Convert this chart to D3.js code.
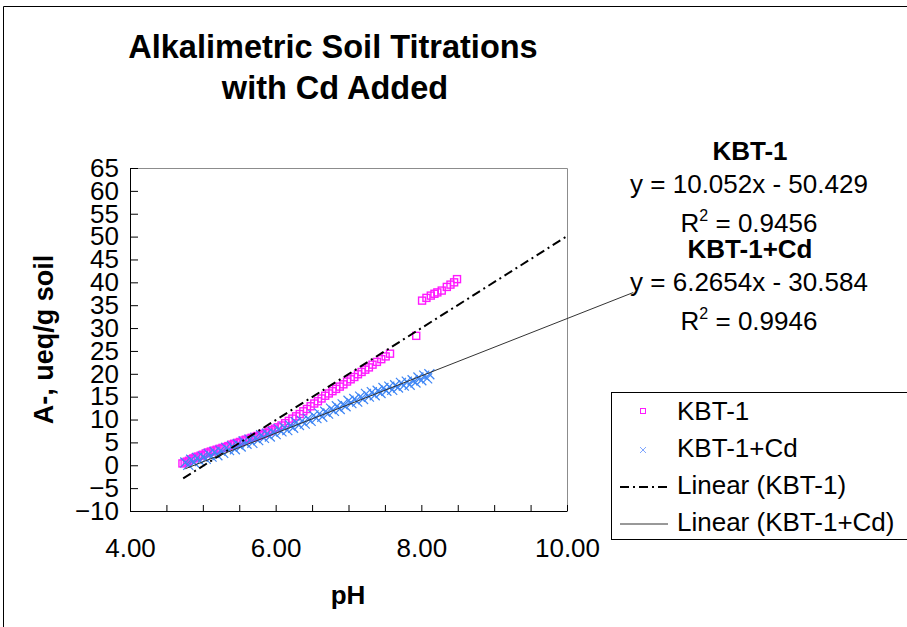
<!DOCTYPE html>
<html>
<head>
<meta charset="utf-8">
<script src="https://cdn.jsdelivr.net/npm/d3@7"></script>
<style>
  html, body { margin: 0; padding: 0; background: #fff; }
  svg { display: block; font-family: "Liberation Sans", Arial, sans-serif; }
</style>
</head>
<body>
<svg id="chart" width="907" height="627"></svg>
<script>
// Titration data: pH vs A- (ueq/g soil)
const phKbt = [4.72, 4.75, 4.78, 4.81, 4.84, 4.87, 4.90, 4.93, 4.97, 5.00, 5.04, 5.07, 5.11, 5.15, 5.19, 5.23,
  5.27, 5.31, 5.35, 5.39, 5.43, 5.47, 5.51, 5.55, 5.59, 5.63, 5.67, 5.71, 5.75, 5.79, 5.83, 5.87, 5.91, 5.95,
  5.99, 6.03, 6.08, 6.13, 6.18, 6.23, 6.28, 6.33, 6.38, 6.43, 6.48, 6.53, 6.58, 6.63, 6.68, 6.73, 6.78, 6.83,
  6.88, 6.93, 6.98, 7.03, 7.08, 7.13, 7.18, 7.23, 7.28, 7.33, 7.39, 7.45, 7.51, 7.57, 7.93,
  8.01, 8.07, 8.13, 8.18, 8.22, 8.28, 8.35, 8.40, 8.45, 8.49];
const aKbt = [0.4, 0.6, 0.8, 1.0, 1.3, 1.5, 1.7, 1.9, 2.1, 2.3, 2.6, 2.8, 3.0, 3.2, 3.4, 3.6,
  3.8, 4.0, 4.2, 4.5, 4.7, 4.9, 5.1, 5.4, 5.6, 5.8, 6.0, 6.2, 6.4, 6.6, 6.9, 7.1, 7.4, 7.7,
  8.0, 8.3, 8.7, 9.2, 9.7, 10.2, 10.7, 11.2, 11.8, 12.3, 12.9, 13.5, 14.0, 14.6, 15.2, 15.7, 16.2, 16.7,
  17.2, 17.7, 18.3, 18.8, 19.3, 19.9, 20.4, 20.9, 21.4, 22.0, 22.6, 23.2, 23.8, 24.4, 28.3,
  36.0, 36.6, 37.1, 37.5, 37.8, 38.2, 39.0, 39.5, 40.0, 40.7];

const phCd = [4.76, 4.80, 4.84, 4.88, 4.92, 4.96, 5.00, 5.04, 5.08, 5.12, 5.16, 5.20, 5.24, 5.28, 5.32, 5.36,
  5.40, 5.44, 5.48, 5.52, 5.56, 5.60, 5.64, 5.68, 5.72, 5.76, 5.80, 5.84, 5.88, 5.92, 5.96, 6.00,
  6.04, 6.08, 6.12, 6.16, 6.20, 6.24, 6.28, 6.32, 6.36, 6.40, 6.44, 6.48, 6.52, 6.56, 6.60, 6.64,
  6.68, 6.72, 6.76, 6.80, 6.84, 6.88, 6.92, 6.96, 7.00, 7.04, 7.08, 7.12, 7.16, 7.20, 7.24, 7.28,
  7.32, 7.36, 7.40, 7.44, 7.48, 7.52, 7.56, 7.60, 7.64, 7.68, 7.72, 7.76, 7.80, 7.84, 7.88, 7.92,
  7.96, 8.00, 8.04, 8.08, 8.11];
const aCd = [0.6, 0.1, 1.2, 0.6, 1.6, 0.9, 1.9, 1.4, 2.5, 1.9, 2.9, 2.2, 3.2, 2.7, 3.8, 3.3,
  4.2, 3.5, 4.6, 4.1, 5.2, 4.7, 5.6, 4.9, 6.0, 5.5, 6.6, 6.0, 6.9, 6.3, 7.3, 6.8,
  7.9, 7.4, 8.3, 7.7, 8.7, 8.2, 9.4, 8.8, 9.7, 9.1, 10.2, 9.7, 10.9, 10.3, 11.3, 10.6,
  11.7, 11.3, 12.4, 11.9, 12.9, 12.3, 13.3, 12.9, 14.1, 13.6, 14.5, 13.9, 15.0, 14.5, 15.6, 15.0,
  16.0, 15.3, 16.3, 15.8, 16.9, 16.3, 17.2, 16.5, 17.5, 17.0, 18.0, 17.4, 18.3, 17.6, 18.6, 18.1,
  19.2, 18.6, 19.6, 19.0, 19.9];

// Linear fits (slope, intercept) and R² as printed, with the pH span each line covers
const fitKbt = [10.052, -50.429];
const fitCd = [6.2654, -30.584];
const r2Kbt = "0.9456";
const r2Cd = "0.9946";
const spanKbt = [4.73, 10.0];
const spanCd = [4.76, 10.91];

const xDomain = [4, 10];
const yDomain = [-10, 65];
const xTicks = [4, 4.5, 5, 5.5, 6, 6.5, 7, 7.5, 8, 8.5, 9, 9.5, 10];
const xLabelTicks = [4, 6, 8, 10];
const yTicks = [-10, -5, 0, 5, 10, 15, 20, 25, 30, 35, 40, 45, 50, 55, 60, 65];

const legendNames = ["KBT-1", "KBT-1+Cd", "Linear (KBT-1)", "Linear (KBT-1+Cd)"];

const svg = d3.select("#chart");
const x = d3.scaleLinear().domain(xDomain).range([130, 567]);
const y = d3.scaleLinear().domain(yDomain).range([511, 168]);

const magenta = "#ff1aff";
const blue = "#3f86f5";
const fs = 26;

// outer chart border (top and left edges)
svg.append("path").attr("d", "M3.5,640 V6.5 H910")
  .attr("fill", "none").attr("stroke", "#000").attr("stroke-width", 1);

// plot area frame (top and right)
svg.append("path")
  .attr("d", `M${x(4)},${y(65) + 0.5} H${x(10) + 0.5} V${y(-10)}`)
  .attr("fill", "none").attr("stroke", "#8c8c8c").attr("stroke-width", 1);

// title
const title = svg.append("text").attr("text-anchor", "middle")
  .attr("font-size", 32.5).attr("font-weight", "bold").attr("fill", "#000");
title.append("tspan").attr("x", 333).attr("y", 58).text("Alkalimetric Soil Titrations");
title.append("tspan").attr("x", 335).attr("y", 99).text("with Cd Added");

// axes
const yAxis = d3.axisLeft(y).tickValues(yTicks).tickSizeInner(-8).tickSizeOuter(0)
  .tickPadding(11).tickFormat(d3.format("d"));
const xAxis = d3.axisBottom(x).tickValues(xTicks).tickSizeInner(-6).tickSizeOuter(0)
  .tickPadding(28).tickFormat(d => xLabelTicks.includes(d) ? d3.format(".2f")(d) : "");

const gy = svg.append("g").attr("transform", `translate(${x(4)},0)`).call(yAxis);
const gx = svg.append("g").attr("transform", `translate(0,${y(-10)})`).call(xAxis);
[gx, gy].forEach(g => {
  g.selectAll("text").attr("font-size", fs).attr("fill", "#000")
    .attr("font-family", '"Liberation Sans", Arial, sans-serif');
  g.selectAll("line").attr("stroke", "#000");
  g.select(".domain").attr("stroke", "#000");
});

// axis titles
svg.append("text").attr("x", 348).attr("y", 604).attr("text-anchor", "middle")
  .attr("font-size", 26).attr("font-weight", "bold").text("pH");
svg.append("text").attr("transform", `translate(53,${(y(65) + y(-10)) / 2}) rotate(-90)`)
  .attr("text-anchor", "middle").attr("font-size", 27).attr("font-weight", "bold")
  .text("A-, ueq/g soil");

// KBT-1 markers: hollow squares
const sq = 7;
svg.append("g").selectAll("rect").data(d3.range(phKbt.length)).join("rect")
  .attr("x", i => x(phKbt[i]) - sq / 2).attr("y", i => y(aKbt[i]) - sq / 2)
  .attr("width", sq).attr("height", sq)
  .attr("fill", "none").attr("stroke", magenta).attr("stroke-width", 1.4);

// KBT-1+Cd markers: crosses
const cr = 5;
const cross = (cx, cy, r) => `M${cx - r},${cy - r}L${cx + r},${cy + r}M${cx - r},${cy + r}L${cx + r},${cy - r}`;
svg.append("g").selectAll("path").data(d3.range(phCd.length)).join("path")
  .attr("d", i => cross(x(phCd[i]), y(aCd[i]), cr))
  .attr("fill", "none").attr("stroke", blue).attr("stroke-width", 1.2);

// trend lines
const fitLine = (fit, span) => span.map(p => [x(p), y(fit[0] * p + fit[1])]);
const line = d3.line();
svg.append("path").attr("d", line(fitLine(fitKbt, spanKbt)))
  .attr("fill", "none").attr("stroke", "#000").attr("stroke-width", 2)
  .attr("stroke-dasharray", "9,4,2,4");
svg.append("path").attr("d", line(fitLine(fitCd, spanCd)))
  .attr("fill", "none").attr("stroke", "#333").attr("stroke-width", 1);

// trend equations
const fmtEq = fit => `y = ${fit[0]}x - ${Math.abs(fit[1])}`;
const eq = svg.append("g").attr("text-anchor", "middle").attr("font-size", fs).attr("fill", "#000");
const eqBlock = (name, fit, r2, y0) => {
  eq.append("text").attr("x", 750).attr("y", y0).attr("font-weight", "bold").text(name);
  eq.append("text").attr("x", 749).attr("y", y0 + 33).text(fmtEq(fit));
  const t = eq.append("text").attr("x", 749).attr("y", y0 + 72);
  t.append("tspan").text("R");
  t.append("tspan").attr("font-size", 16).attr("dy", -11).text("2");
  t.append("tspan").attr("dy", 11).text(" = " + r2);
};
eqBlock(legendNames[0], fitKbt, r2Kbt, 160);
eqBlock(legendNames[1], fitCd, r2Cd, 258);

// legend
const lg = svg.append("g");
lg.append("rect").attr("x", 611.5).attr("y", 392.5).attr("width", 320).attr("height", 147)
  .attr("fill", "#fff").attr("stroke", "#000").attr("stroke-width", 1);
const rowY = [411, 448, 485, 522];
legendNames.forEach((n, i) => {
  lg.append("text").attr("x", 677).attr("y", rowY[i]).attr("dy", "0.35em")
    .attr("font-size", fs).text(n);
});
lg.append("rect").attr("x", 643 - 2.5).attr("y", rowY[0] - 2.5).attr("width", 5).attr("height", 5)
  .attr("fill", "none").attr("stroke", magenta).attr("stroke-width", 1);
lg.append("path").attr("d", cross(643, rowY[1] + 2, 3))
  .attr("fill", "none").attr("stroke", "#7fa6ff").attr("stroke-width", 1);
lg.append("line").attr("x1", 620).attr("x2", 668).attr("y1", rowY[2] + 2).attr("y2", rowY[2] + 2)
  .attr("stroke", "#000").attr("stroke-width", 2).attr("stroke-dasharray", "9,4,2,4");
lg.append("line").attr("x1", 620).attr("x2", 668).attr("y1", rowY[3] + 2).attr("y2", rowY[3] + 2)
  .attr("stroke", "#333").attr("stroke-width", 1);
</script>
</body>
</html>
